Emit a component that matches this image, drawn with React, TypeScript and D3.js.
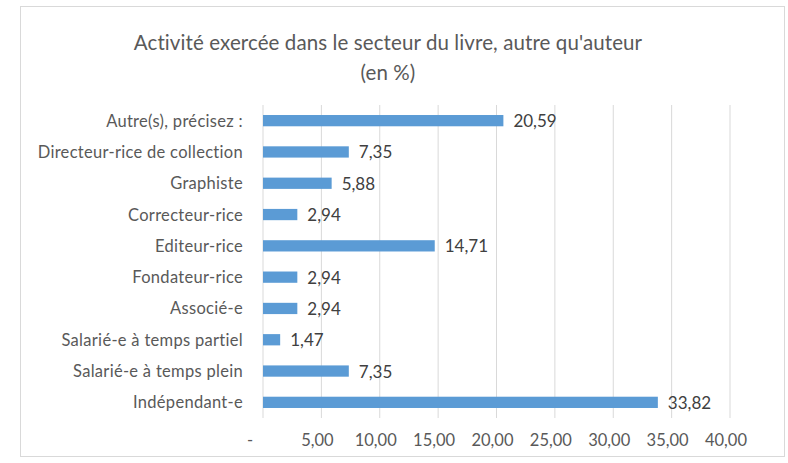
import React from "react";
import * as d3 from "d3";

const categories = [
  "Autre(s), précisez :",
  "Directeur-rice de collection",
  "Graphiste",
  "Correcteur-rice",
  "Editeur-rice",
  "Fondateur-rice",
  "Associé-e",
  "Salarié-e à temps partiel",
  "Salarié-e à temps plein",
  "Indépendant-e",
];
const values = [20.59, 7.35, 5.88, 2.94, 14.71, 2.94, 2.94, 1.47, 7.35, 33.82];
const xTicks = [0, 5, 10, 15, 20, 25, 30, 35, 40];
const titleLines = ["Activité exercée dans le secteur du livre, autre qu'auteur", "(en %)"];

const W = 788;
const H = 463;
const FONT = "Lato, 'Open Sans', sans-serif";

const fmt = (v: number) => (v === 0 ? "-" : v.toFixed(2).replace(".", ","));

export default function App() {
  const x = d3.scaleLinear().domain([0, 40]).range([263, 730]);
  const y = d3.scaleBand<string>().domain(categories).range([105, 418]).paddingInner(0.64).paddingOuter(0.32);
  const [r0, r1] = y.range();

  return (
    <svg width={W} height={H} style={{ position: "absolute", left: 0, top: 0, fontFamily: FONT }}>
      <rect x={0} y={0} width={W} height={H} fill="#fff" />
      <rect x={20.5} y={6.5} width={764} height={450} fill="#fff" stroke="#d9d9d9" />
      {titleLines.map((t, i) => (
        <text key={i} x={388} y={42 + i * 30} textAnchor="middle" dominantBaseline="central" fontSize={20.5} letterSpacing={0.1} fill="#595959">
          {t}
        </text>
      ))}
      {xTicks.map((t) => (
        <g key={t}>
          <line x1={x(t)} x2={x(t)} y1={r0} y2={r1} stroke="#d9d9d9" strokeWidth={1} />
          <text x={x(t)} dx={t === 0 ? -13 : -4} y={440} textAnchor="middle" dominantBaseline="central" fontSize={16.5} fill="#595959">
            {fmt(t)}
          </text>
        </g>
      ))}
      {categories.map((c, i) => (
        <g key={c}>
          <rect x={x(0)} y={y(c)!} width={x(values[i]) - x(0)} height={y.bandwidth()} fill="#5B9BD5" />
          <text x={x(0) - 20} y={y(c)! + y.bandwidth() / 2} textAnchor="end" dominantBaseline="central" fontSize={16.5} letterSpacing={0.3} fill="#595959">
            {c}
          </text>
          <text x={x(values[i]) + 10} y={y(c)! + y.bandwidth() / 2} textAnchor="start" dominantBaseline="central" fontSize={17} fill="#404040">
            {fmt(values[i])}
          </text>
        </g>
      ))}
    </svg>
  );
}
